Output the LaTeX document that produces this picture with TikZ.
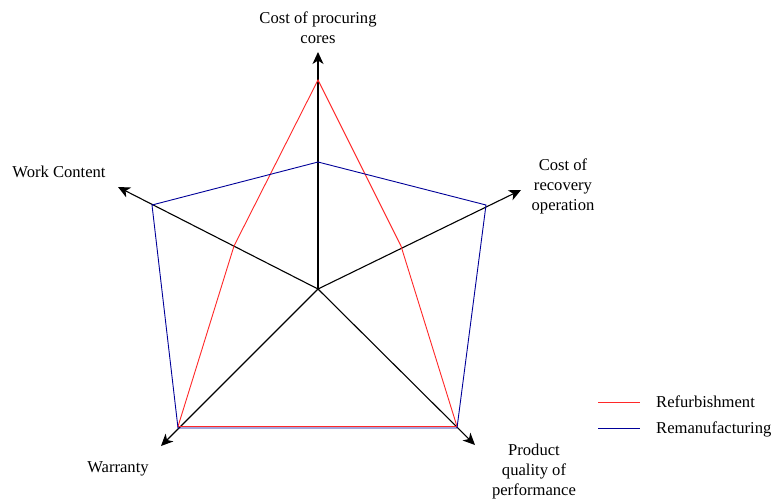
\documentclass[tikz,border=0pt]{standalone}
\usepackage{fontspec}
\setmainfont{Liberation Serif}
\usetikzlibrary{arrows.meta}
\definecolor{refurb}{RGB}{255,40,40}
\definecolor{reman}{RGB}{0,0,153}
\begin{document}
\begin{tikzpicture}[x=1pt,y=-1pt,
  axis/.style={draw=black,line width=1.1pt,-{Stealth[length=12pt,width=11pt,inset=3.5pt]}},
  series/.style={line width=0.9pt,line join=miter},
  lbl/.style={align=center,font=\fontsize{16.6}{20}\selectfont,inner sep=0pt},
  legtext/.style={anchor=west,font=\fontsize{16.6}{20}\selectfont,inner sep=0pt}]
  \useasboundingbox[fill=white] (0,0) rectangle (771,499);

  % centre and axis end points
  \coordinate (o) at (318,289);
  \coordinate (tA) at (318,52);
  \coordinate (tB) at (521,190);
  \coordinate (tC) at (475,445);
  \coordinate (tD) at (161,446);
  \coordinate (tE) at (118,187);

  % axes
  \draw[axis] (o) -- (tA);
  \draw[axis] (o) -- (tB);
  \draw[axis] (o) -- (tC);
  \draw[axis] (o) -- (tD);
  \draw[axis] (o) -- (tE);

  % refurbishment profile
  \coordinate (r1) at (318,80);
  \coordinate (r2) at (401,246);
  \coordinate (r3) at (457,426.5);
  \coordinate (r4) at (178,426.5);
  \coordinate (r5) at (234,246);
  \draw[series,refurb] (r1) -- (r2) -- (r3) -- (r4) -- (r5) -- cycle;

  % remanufacturing profile
  \coordinate (m1) at (318,162);
  \coordinate (m2) at (486,205);
  \coordinate (m3) at (457,428);
  \coordinate (m4) at (178,428);
  \coordinate (m5) at (152,205);
  \draw[series,reman] (m1) -- (m2) -- (m3) -- (m4) -- (m5) -- cycle;

  % axis labels
  \node[lbl] (lA) at (318,28) {Cost of procuring\\cores};
  \node[lbl] (lB) at (563,186) {Cost of\\recovery\\operation};
  \node[lbl] (lC) at (534,471) {Product\\quality of\\performance};
  \node[lbl] (lD) at (118,469) {Warranty};
  \node[lbl] (lE) at (59,172) {Work Content};

  % legend
  \coordinate (k1a) at (598,402);
  \coordinate (k1b) at (640,402);
  \coordinate (k2a) at (598,428);
  \coordinate (k2b) at (640,428);
  \draw[series,refurb] (k1a) -- (k1b);
  \draw[series,reman] (k2a) -- (k2b);
  \node[legtext] (t1) at (656,402) {Refurbishment};
  \node[legtext] (t2) at (656,429) {Remanufacturing};
\end{tikzpicture}
\end{document}
